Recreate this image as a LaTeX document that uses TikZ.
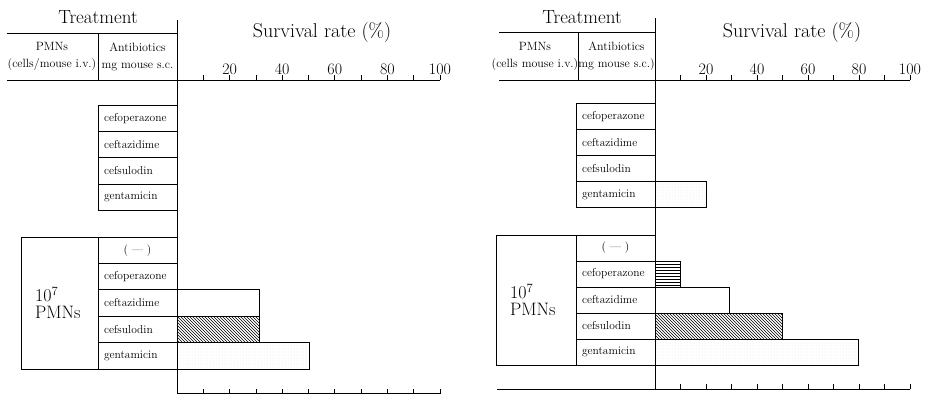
\documentclass[tikz,border=0pt]{standalone}
\usepackage{fontspec}
\usetikzlibrary{positioning,patterns}
\tikzset{
  rowbox/.style={draw,outer sep=0pt,inner xsep=6pt,text width=67pt,align=left,
    minimum height=26.4pt,font=\fontsize{11.5}{13}\selectfont},
  pmnbox/.style={draw,outer sep=0pt,inner xsep=14pt,align=left,
    font=\fontsize{18}{17}\selectfont},
  bigtxt/.style={font=\fontsize{19}{22}\selectfont},
  survtxt/.style={font=\fontsize{20}{22}\selectfont\addfontfeatures{LetterSpace=3}},
  headtxt/.style={align=center,font=\fontsize{12}{17}\selectfont},
  ticklab/.style={anchor=south,inner sep=0pt,font=\fontsize{16}{17}\selectfont},
  bar/.style={draw},
}
\begin{document}
\begin{tikzpicture}[x=1pt,y=-1pt,line width=0.8pt]
\useasboundingbox (0,0) rectangle (925,394);
% left panel
\node[bigtxt] (treatL) at (98,17) {Treatment};
\node[survtxt] (survL) at (322,33) {Survival rate (\%)};
\node[headtxt] (pmnhL) at (52,56.5) {PMNs\\(cells/mouse i.v.)};
\node[headtxt] (abhL) at (137.5,56.5) {Antibiotics\\mg mouse s.c.};
\draw (7,33) -- (177,33);
\draw (98,33) -- (98,80);
\draw (7,80) -- (440,80);
\draw (177,20) -- (177,394);
\foreach \i in {1,...,10} {
  \draw (177+\i*26.3,80) -- ++(0,-5);
  \draw (177+\i*26.3,393.5) -- ++(0,-5);
}
\foreach \v in {20,40,60,80,100}
  \node[ticklab] (tlL\v) at ({177+\v*2.63},75) {\v};
\draw (177,393.5) -- (440,393.5);
\node[rowbox,anchor=north east] (a1) at (177,105) {cefoperazone};
\node[rowbox,below=0pt of a1] (a2) {ceftazidime};
\node[rowbox,below=0pt of a2] (a3) {cefsulodin};
\node[rowbox,below=0pt of a3] (a4) {gentamicin};
\node[rowbox,anchor=north east,align=center] (b0) at (177,237) {( --- )};
\node[rowbox,below=0pt of b0] (b1) {cefoperazone};
\node[rowbox,below=0pt of b1] (b2) {ceftazidime};
\node[rowbox,below=0pt of b2] (b3) {cefsulodin};
\node[rowbox,below=0pt of b3] (b4) {gentamicin};
\node[pmnbox,anchor=north east,text width=49pt,minimum height=132pt] (pmnL) at (b0.north west) {10\textsuperscript{7}\\PMNs};
\draw[bar] (b2.north east) rectangle (259,0 |- b2.south);
\draw[bar,pattern=north west lines] (b3.north east) rectangle (259,0 |- b3.south);
\draw[bar,pattern=dots,pattern color=black!10] (b4.north east) rectangle (309,0 |- b4.south);
% right panel
\node[bigtxt] (treatR) at (582,17) {Treatment};
\node[survtxt] (survR) at (792,33) {Survival rate (\%)};
\node[headtxt] (pmnhR) at (535,56.5) {PMNs\\(cells mouse i.v.)};
\node[headtxt] (abhR) at (616.5,56.5) {Antibiotics\\mg mouse s.c.)};
\draw (499,32) -- (655,32);
\draw (578,32) -- (578,80);
\draw (499,80) -- (910,80);
\draw (655,18) -- (655,389);
\foreach \i in {1,...,10} {
  \draw (655+\i*25.5,80) -- ++(0,-5);
  \draw (655+\i*25.5,389) -- ++(0,-5);
}
\foreach \v in {20,40,60,80,100}
  \node[ticklab] (tlR\v) at ({655+\v*2.55},75) {\v};
\draw (497,389) -- (910,389);
\node[rowbox,anchor=north east,minimum height=26.2pt] (c1) at (655,103) {cefoperazone};
\node[rowbox,below=0pt of c1,minimum height=26.2pt] (c2) {ceftazidime};
\node[rowbox,below=0pt of c2,minimum height=26.2pt] (c3) {cefsulodin};
\node[rowbox,below=0pt of c3,minimum height=26.2pt] (c4) {gentamicin};
\node[rowbox,anchor=north east,align=center,minimum height=26pt] (d0) at (655,235) {( --- )};
\node[rowbox,below=0pt of d0,minimum height=26pt] (d1) {cefoperazone};
\node[rowbox,below=0pt of d1,minimum height=26pt] (d2) {ceftazidime};
\node[rowbox,below=0pt of d2,minimum height=26pt] (d3) {cefsulodin};
\node[rowbox,below=0pt of d3,minimum height=26pt] (d4) {gentamicin};
\node[pmnbox,anchor=north east,text width=52pt,minimum height=130pt] (pmnR) at (d0.north west) {10\textsuperscript{7}\\PMNs};
\draw[bar,pattern=dots,pattern color=black!10] (c4.north east) rectangle (706,0 |- c4.south);
\draw[bar,pattern=horizontal lines] (d1.north east) rectangle (680,0 |- d1.south);
\draw[bar] (d2.north east) rectangle (729,0 |- d2.south);
\draw[bar,pattern=north west lines] (d3.north east) rectangle (782,0 |- d3.south);
\draw[bar,pattern=dots,pattern color=black!10] (d4.north east) rectangle (858,0 |- d4.south);
\end{tikzpicture}
\end{document}
